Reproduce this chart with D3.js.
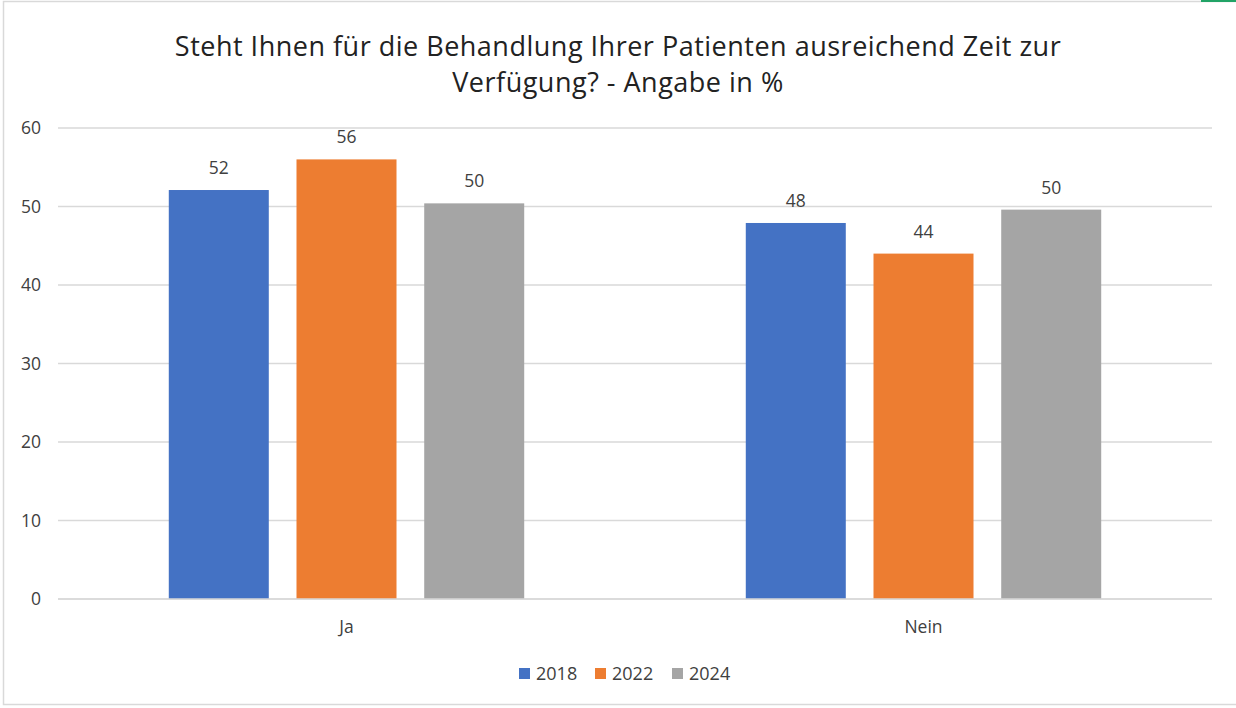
<!DOCTYPE html>
<html>
<head>
<meta charset="utf-8">
<script src="https://cdn.jsdelivr.net/npm/d3@7"></script>
<style>
  body { margin: 0; background: #fff; }
  svg { display: block; font-family: "Open Sans", "Noto Sans", sans-serif; }
</style>
</head>
<body>
<div id="chart"></div>
<script>
const categories = ['Ja', 'Nein'];
const years = ['2018', '2022', '2024'];
const values2018 = [52.1, 47.9];
const values2022 = [56.0, 44.0];
const values2024 = [50.4, 49.6];
const yTicks = [0, 10, 20, 30, 40, 50, 60];
const colors = ['#4472c4', '#ed7d31', '#a5a5a5'];

const series = [values2018, values2022, values2024];
const data = categories.map((c, i) => ({
  cat: c,
  vals: years.map((y, j) => ({ year: y, value: series[j][i] }))
}));

const w = 1236;
const h = 708;
const plotLeft = 58, plotRight = 1212, plotTop = 128, plotBottom = 599;

const svg = d3.select('#chart')
  .append('svg')
  .attr('width', w)
  .attr('height', h);

// frame
svg.append('rect')
  .attr('x', 3.5).attr('y', 1.5)
  .attr('width', w + 10).attr('height', 703)
  .attr('fill', 'none').attr('stroke', '#d9d9d9').attr('stroke-width', 1.5);
svg.append('line')
  .attr('x1', 1201).attr('x2', w).attr('y1', 1).attr('y2', 1)
  .attr('stroke', '#21a366').attr('stroke-width', 2);

const title = svg.append('text')
  .attr('text-anchor', 'middle')
  .attr('font-size', 27)
  .attr('letter-spacing', 0.5)
  .attr('fill', '#222');
title.append('tspan').attr('x', 618).attr('y', 56)
  .text('Steht Ihnen für die Behandlung Ihrer Patienten ausreichend Zeit zur');
title.append('tspan').attr('x', 618).attr('y', 92)
  .text('Verfügung? - Angabe in %');

const x0 = d3.scaleBand()
  .domain(categories)
  .range([plotLeft, plotRight])
  .paddingInner(0.384)
  .paddingOuter(0.192);

const x1 = d3.scaleBand()
  .domain(years)
  .range([0, x0.bandwidth()])
  .paddingInner(0.217);

const y = d3.scaleLinear()
  .domain([0, 60])
  .range([plotBottom, plotTop]);

// grid
svg.append('g')
  .selectAll('line')
  .data(yTicks)
  .enter()
  .append('line')
  .attr('x1', plotLeft).attr('x2', plotRight)
  .attr('y1', d => y(d)).attr('y2', d => y(d))
  .attr('stroke', '#d9d9d9').attr('stroke-width', 1.5);

const yAxis = d3.axisLeft(y).tickValues(yTicks).tickSize(0).tickPadding(0);
svg.append('g')
  .attr('transform', 'translate(41,0)')
  .call(yAxis)
  .call(g => g.select('.domain').remove())
  .selectAll('text')
  .attr('font-size', 17.5)
  .attr('font-family', '"Open Sans", sans-serif')
  .attr('fill', '#404040');

const groups = svg.append('g')
  .selectAll('g')
  .data(data)
  .enter()
  .append('g')
  .attr('transform', d => 'translate(' + x0(d.cat) + ',0)');

groups.selectAll('rect')
  .data(d => d.vals)
  .enter()
  .append('rect')
  .attr('x', d => x1(d.year))
  .attr('y', d => y(d.value))
  .attr('width', x1.bandwidth())
  .attr('height', d => y(0) - y(d.value))
  .attr('fill', (d, i) => colors[i]);

groups.selectAll('text')
  .data(d => d.vals)
  .enter()
  .append('text')
  .attr('x', d => x1(d.year) + x1.bandwidth() / 2)
  .attr('y', d => y(d.value) - 16)
  .attr('text-anchor', 'middle')
  .attr('font-size', 17.5)
  .attr('fill', '#404040')
  .text(d => d3.format('.0f')(d.value));

// baseline redraw over bars
svg.append('line')
  .attr('x1', plotLeft).attr('x2', plotRight)
  .attr('y1', y(0)).attr('y2', y(0))
  .attr('stroke', '#d9d9d9').attr('stroke-width', 1.5);

const xAxis = d3.axisBottom(x0).tickSize(0).tickPadding(0);
svg.append('g')
  .attr('transform', 'translate(0,' + (plotBottom + 22) + ')')
  .call(xAxis)
  .call(g => g.select('.domain').remove())
  .selectAll('text')
  .attr('font-size', 17.5)
  .attr('font-family', '"Open Sans", sans-serif')
  .attr('fill', '#404040');

// legend
const legendX = [519, 595, 672];
const legend = svg.append('g')
  .selectAll('g')
  .data(years)
  .enter()
  .append('g')
  .attr('transform', (d, i) => 'translate(' + legendX[i] + ',668)');
legend.append('rect')
  .attr('width', 11).attr('height', 11)
  .attr('fill', (d, i) => colors[i]);
legend.append('text')
  .attr('x', 17).attr('y', 12)
  .attr('font-size', 18)
  .attr('fill', '#404040')
  .text(d => d);
</script>
</body>
</html>
